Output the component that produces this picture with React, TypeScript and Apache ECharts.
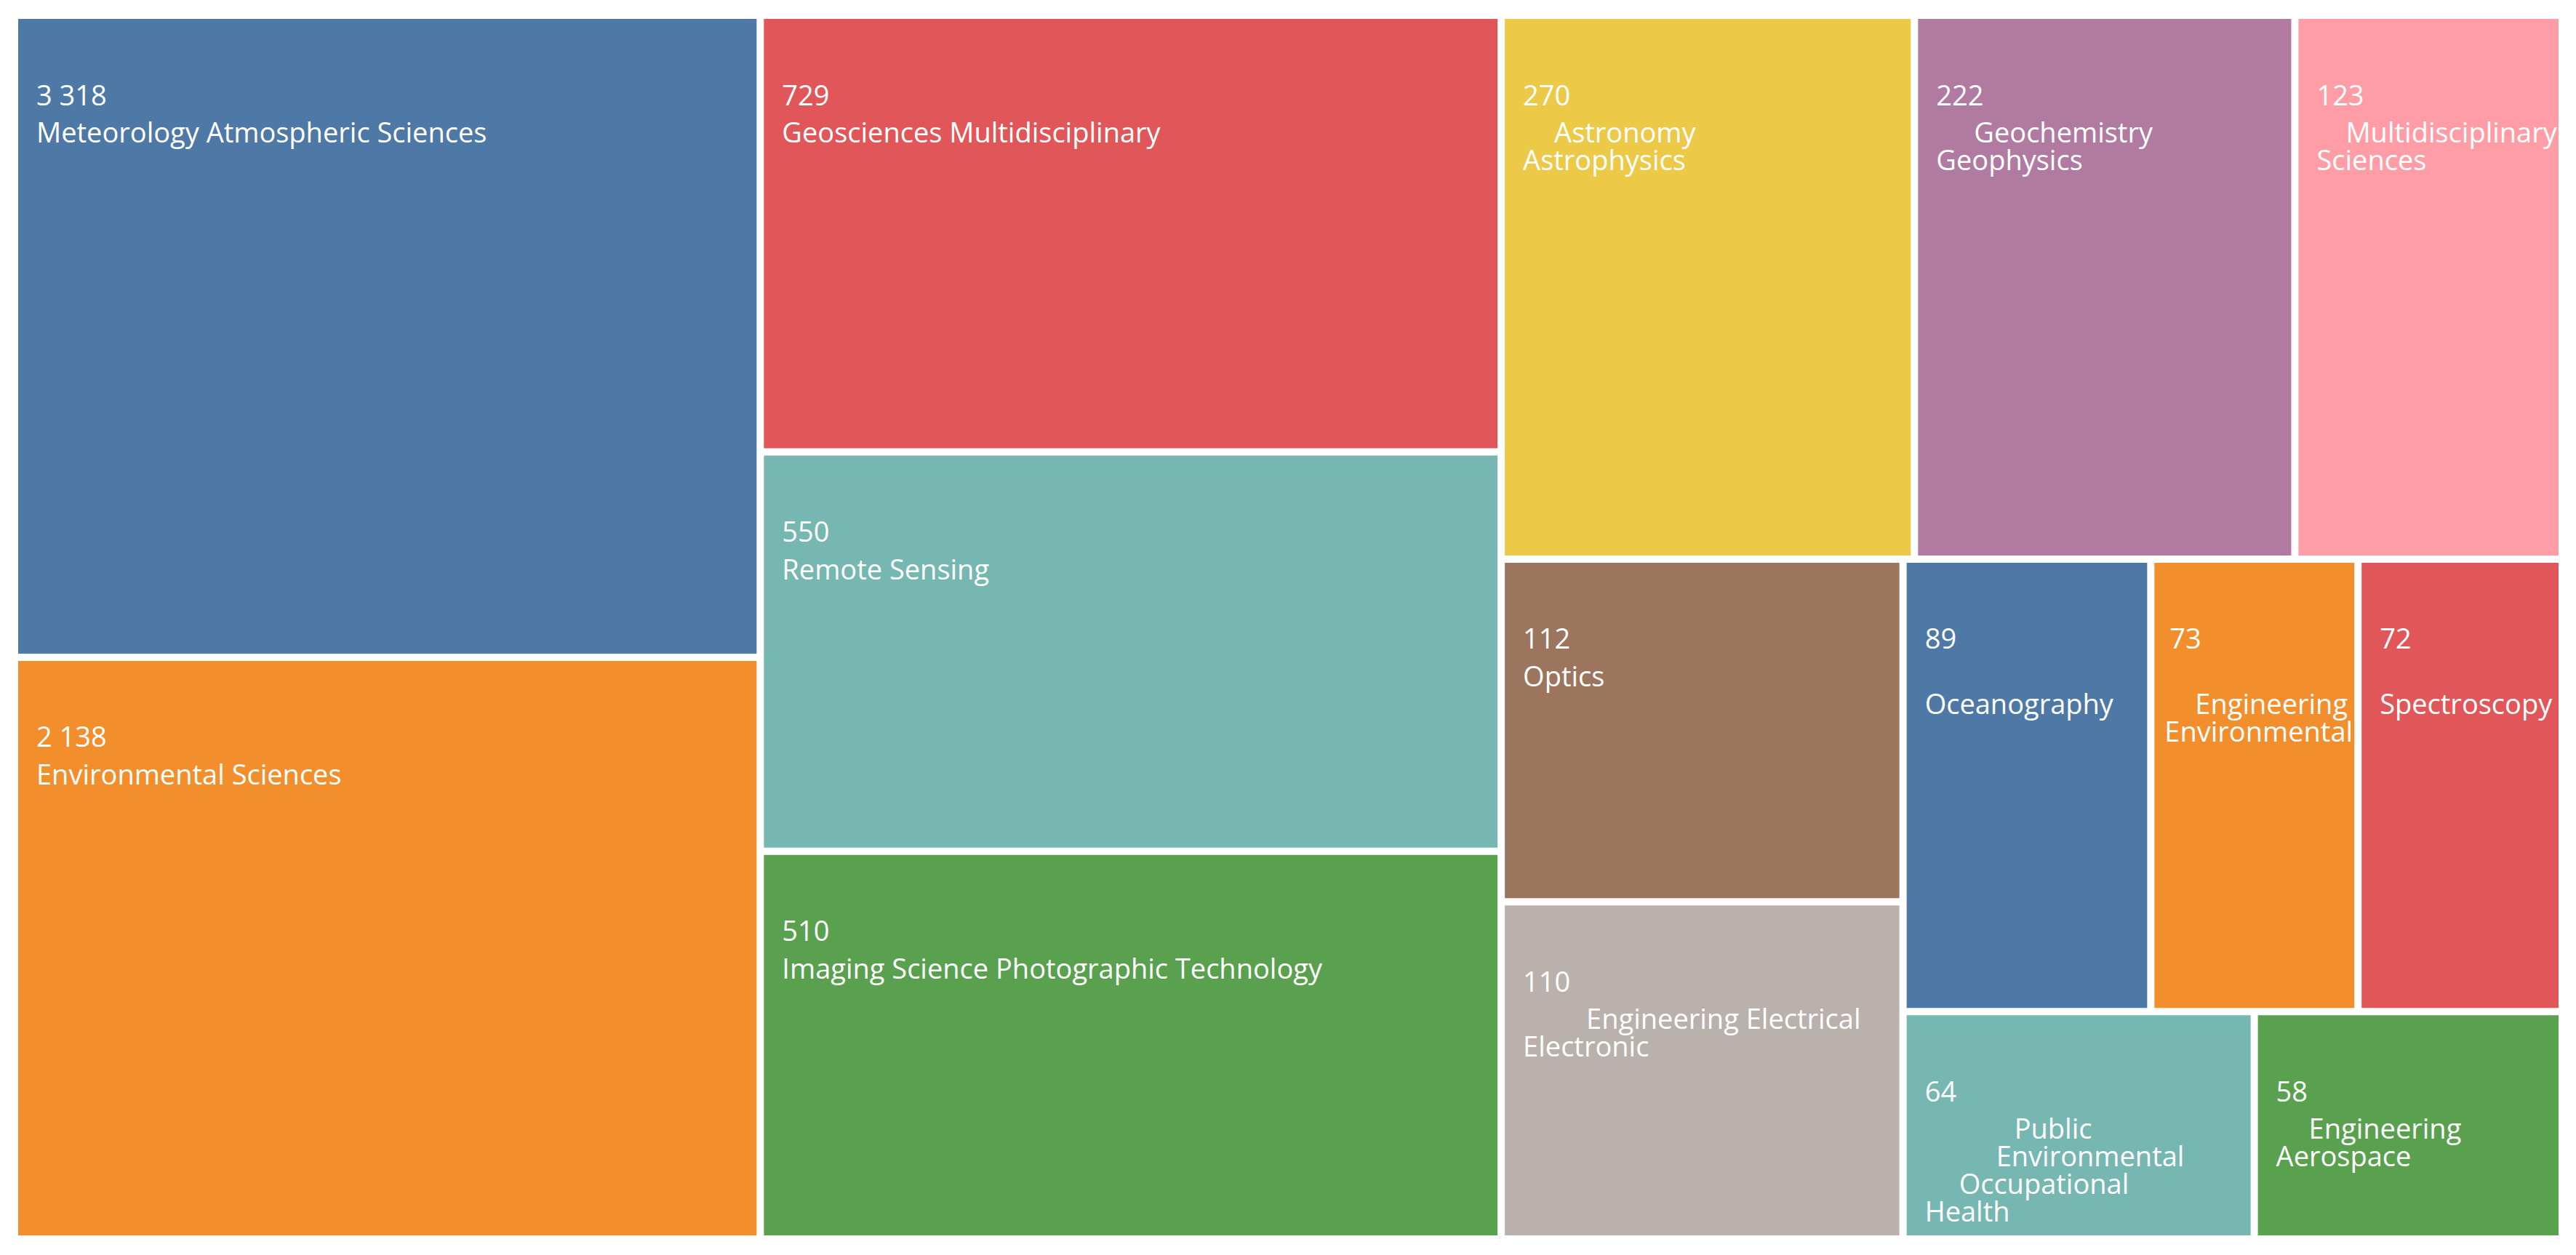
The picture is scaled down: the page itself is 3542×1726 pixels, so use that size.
import React, { useEffect, useRef } from 'react';
import * as echarts from 'echarts';

// ---- data ----
const categories = [
  'Meteorology Atmospheric Sciences',
  'Environmental Sciences',
  'Geosciences Multidisciplinary',
  'Remote Sensing',
  'Imaging Science Photographic Technology',
  'Astronomy Astrophysics',
  'Geochemistry Geophysics',
  'Multidisciplinary Sciences',
  'Optics',
  'Engineering Electrical Electronic',
  'Oceanography',
  'Engineering Environmental',
  'Spectroscopy',
  'Public Environmental Occupational Health',
  'Engineering Aerospace',
];
// record counts shown in the tiles
const counts = [3318, 2138, 729, 550, 510, 270, 222, 123, 112, 110, 89, 73, 72, 64, 58];
const tileWeights = [179.8, 162.9, 121.5, 111.1, 107.9, 84.4, 77.7, 54.6, 51.7, 50.9, 42.1, 35.2, 34.7, 30.0, 26.3];
// how each name is wrapped in its tile
const wrappedNames = [
  'Meteorology Atmospheric Sciences',
  'Environmental Sciences',
  'Geosciences Multidisciplinary',
  'Remote Sensing',
  'Imaging Science Photographic Technology',
  'Astronomy\nAstrophysics',
  'Geochemistry\nGeophysics',
  'Multidisciplinary\nSciences',
  'Optics',
  'Engineering Electrical\nElectronic',
  '\nOceanography',
  '\nEngineering\nEnvironmental',
  '\nSpectroscopy',
  'Public\nEnvironmental\nOccupational\nHealth',
  'Engineering\nAerospace',
];

// ---- styles ----
const palette = ['#4E79A7', '#F28E2B', '#E15759', '#76B7B2', '#59A14F', '#EDC948', '#B07AA1', '#FF9DA7', '#9C755F', '#BAB0AC'];
const PAD_LEFT = 25;
// per-line left indents of the name lines (px)
const lineIndents: Record<string, number[]> = {
  'Astronomy Astrophysics': [43, 0],
  'Geochemistry Geophysics': [52, 0],
  'Multidisciplinary Sciences': [40, 0],
  'Engineering Electrical Electronic': [87, 0],
  'Engineering Environmental': [0, 44, 2],
  'Public Environmental Occupational Health': [123, 98, 47, 0],
  'Engineering Aerospace': [45, 0],
};
// labels that sit closer to the tile's left edge
const labelLeft: Record<string, number> = { 'Engineering Environmental': 12 };
const numIndent: Record<string, number> = { 'Engineering Environmental': 9 };
const FONT = 'Open Sans';
const FS = 38;
const LINE = 38;

const fmt = (v: number) => String(v).replace(/\B(?=(\d{3})+(?!\d))/g, ' ');

export default function App() {
  const ref = useRef<HTMLDivElement>(null);
  useEffect(() => {
    document.body.style.margin = '0';
    const chart = echarts.init(ref.current!, null, { renderer: 'svg' });

    const base = { fontSize: FS, color: '#fff', fontFamily: FONT };
    const rich: any = {
      blank: { ...base, lineHeight: LINE },
    };
    const numSet = new Set<number>([0]);
    Object.values(numIndent).forEach((v) => numSet.add(v));
    numSet.forEach((v) => {
      rich['num' + v] = { ...base, lineHeight: 65, padding: [0, 0, 0, v] };
    });
    const indentSet = new Set<number>([0]);
    Object.values(lineIndents).forEach((arr) => arr.forEach((v) => indentSet.add(v)));
    indentSet.forEach((v) => {
      rich['n' + v] = { ...base, lineHeight: LINE, padding: [0, 0, 0, v] };
    });

    const data = categories.map((name, i) => {
      const item: any = {
        name,
        value: tileWeights[i],
        count: counts[i],
        lines: wrappedNames[i].split('\n'),
        itemStyle: { color: palette[i % palette.length] },
      };
      if (labelLeft[name] !== undefined) {
        item.label = { padding: [71, 0, 0, labelLeft[name]] };
      }
      return item;
    });

    chart.setOption({
      animation: false,
      backgroundColor: '#ffffff',
      series: [
        {
          type: 'treemap',
          left: 25,
          top: 26,
          width: 3493,
          height: 1673,
          roam: false,
          nodeClick: false,
          silent: true,
          breadcrumb: { show: false },
          sort: 'desc',
          squareRatio: 0.5 * (1 + Math.sqrt(5)),
          itemStyle: { gapWidth: 10, borderWidth: 0, borderColor: '#ffffff' },
          levels: [{ itemStyle: { gapWidth: 10, borderWidth: 0 } }, { itemStyle: { borderWidth: 0 } }],
          upperLabel: { show: false },
          label: {
            show: true,
            position: 'insideTopLeft',
            padding: [71, 0, 0, PAD_LEFT],
            overflow: 'none',
            color: '#fff',
            fontFamily: FONT,
            fontSize: FS,
            rich,
            formatter: (p: any) => {
              const d = p.data;
              const ind = lineIndents[d.name] || [];
              const parts = [`{num${numIndent[d.name] || 0}|${fmt(d.count)}}`];
              d.lines.forEach((ln: string, k: number) => {
                parts.push(ln ? `{n${ind[k] || 0}|${ln}}` : '{blank| }');
              });
              return parts.join('\n');
            },
          },
          data,
        },
      ],
    });
    return () => chart.dispose();
  }, []);
  return <div ref={ref} style={{ position: 'fixed', left: 0, top: 0, width: '3542px', height: '1726px' }} />;
}
